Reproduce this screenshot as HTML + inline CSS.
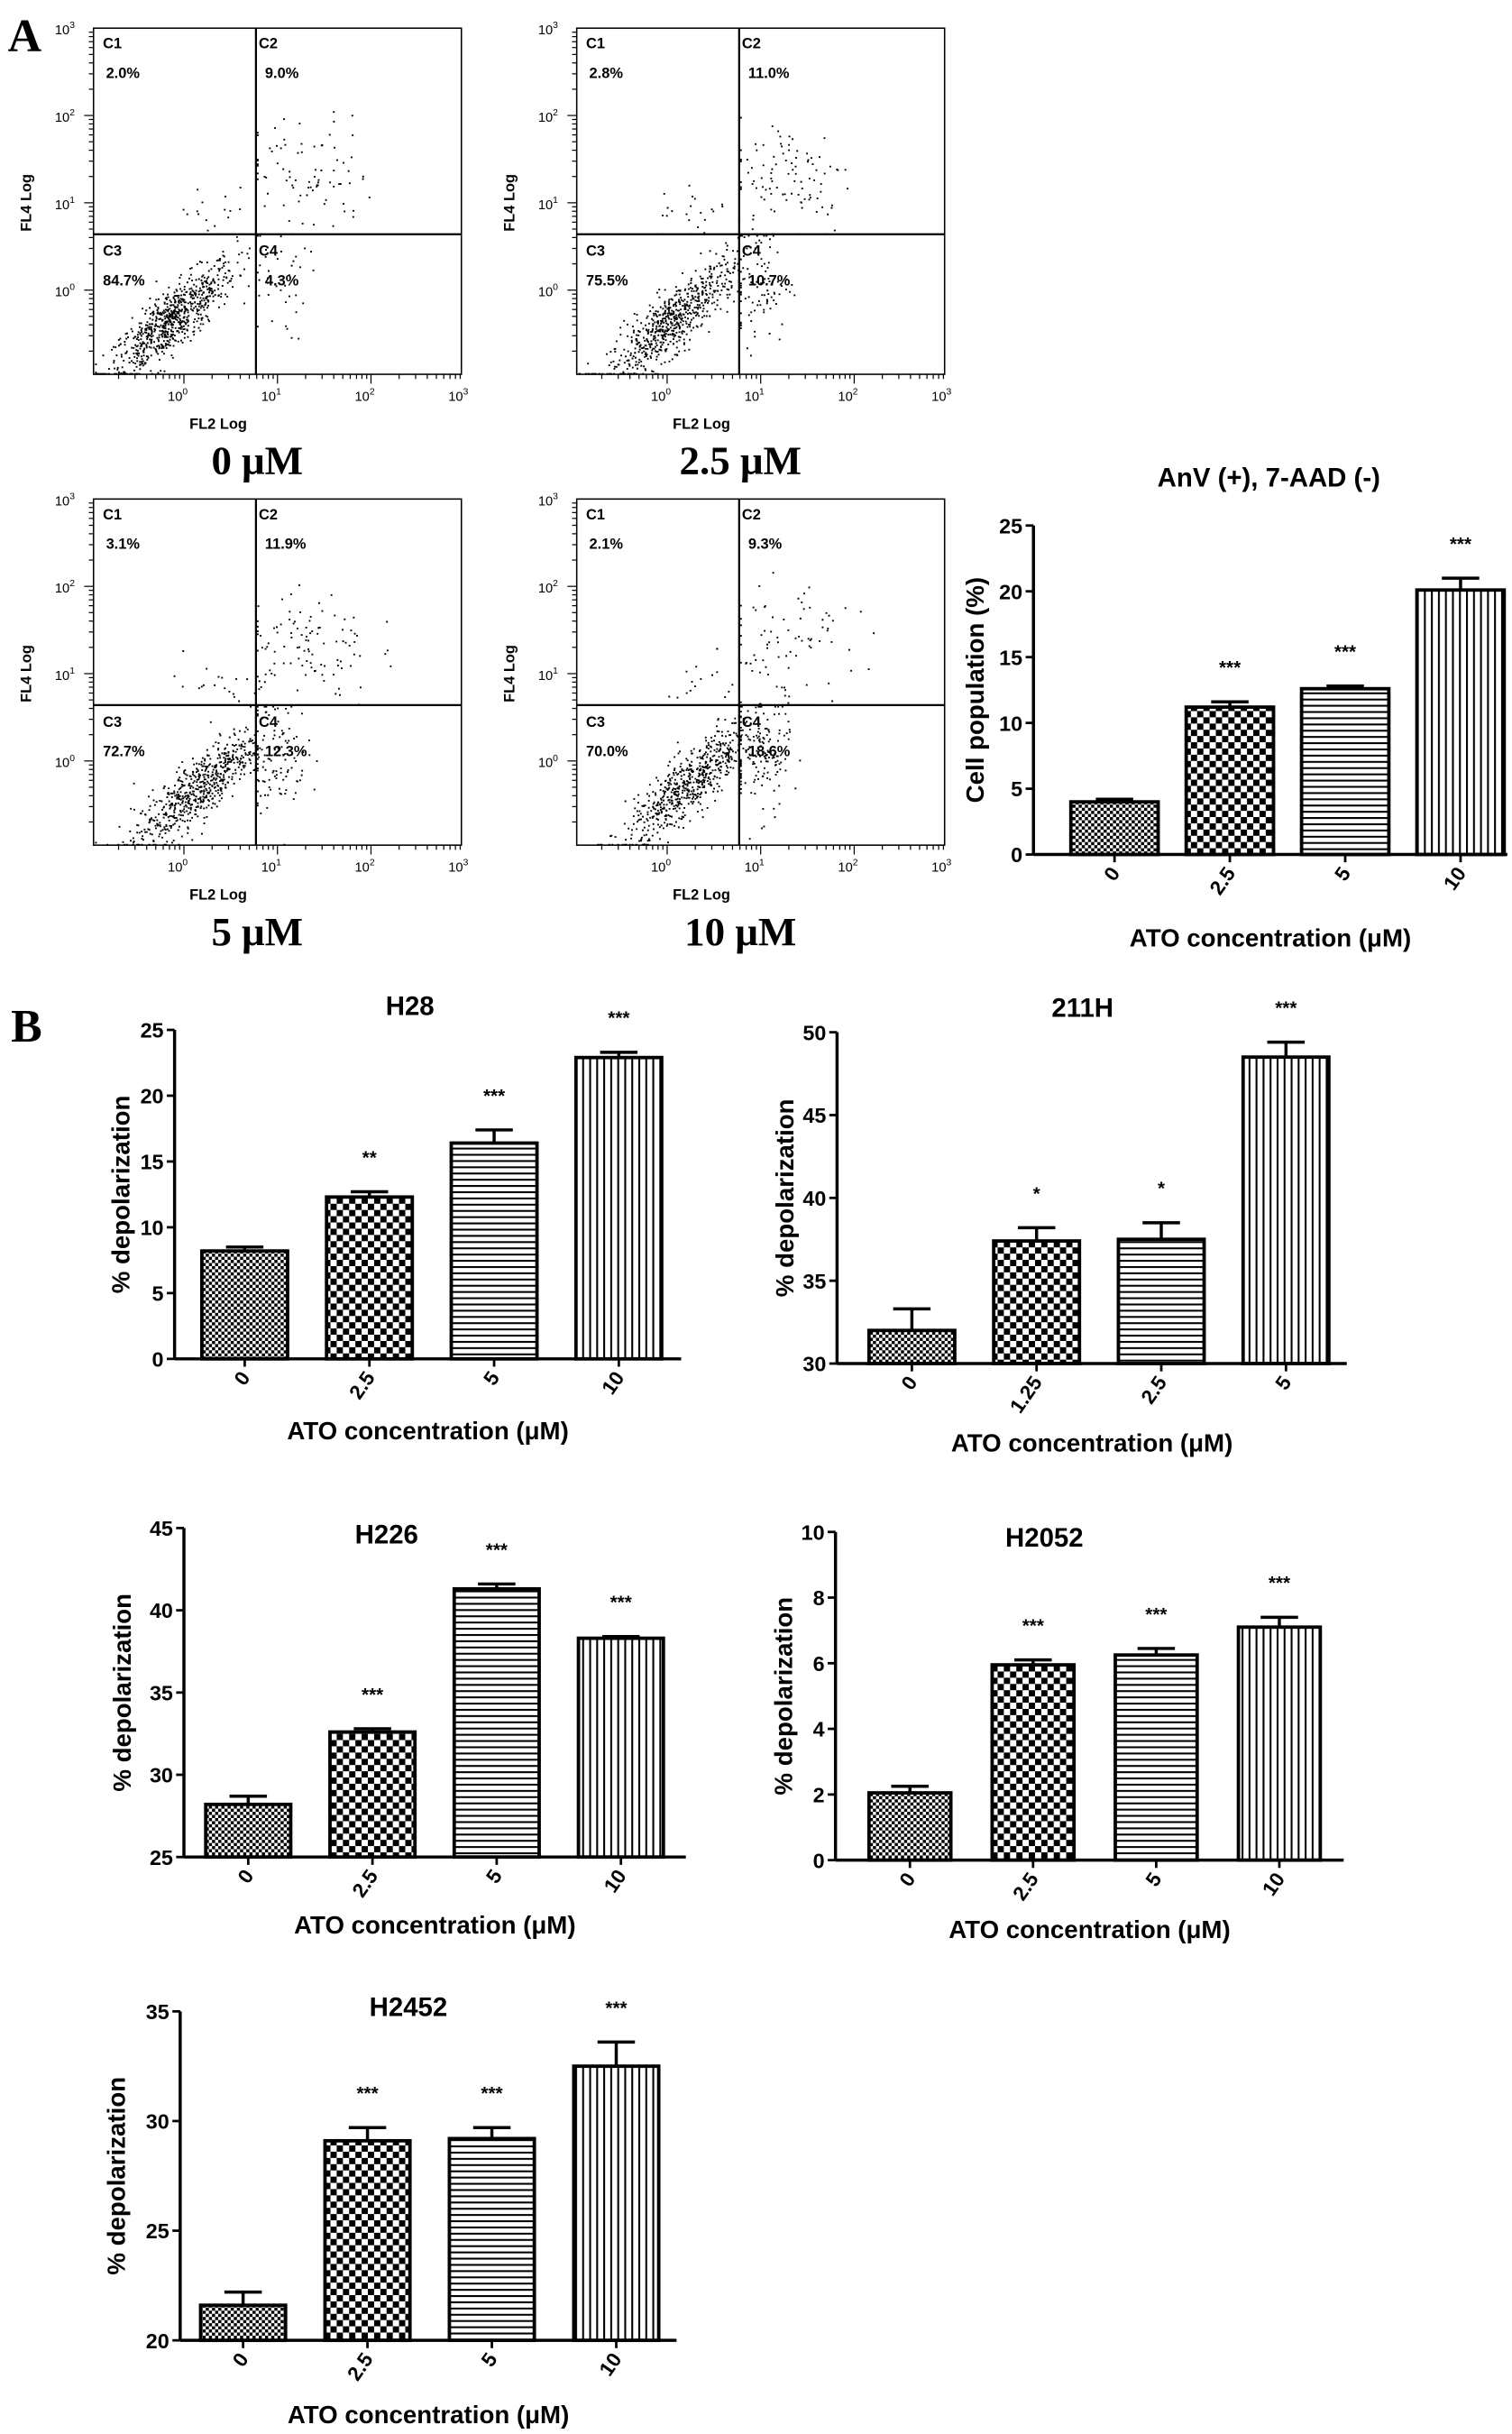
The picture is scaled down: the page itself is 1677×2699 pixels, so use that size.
<!DOCTYPE html>
<html><head><meta charset="utf-8"><style>
html,body{margin:0;padding:0;background:#fff;}
svg{display:block;}
text{font-family:"Liberation Sans",Arial,sans-serif;fill:#000;}
.serif{font-family:"Liberation Serif","Times New Roman",serif;}
</style></head><body>
<svg id="fig" xmlns="http://www.w3.org/2000/svg" width="1677" height="2699" viewBox="0 0 970 1561">
<defs>
<pattern id="pFine" width="4" height="4" patternUnits="userSpaceOnUse"><rect width="4" height="4" fill="#fff"/><rect width="2" height="2" fill="#000"/><rect x="2" y="2" width="2" height="2" fill="#000"/></pattern>
<pattern id="pCheck" width="8" height="8" patternUnits="userSpaceOnUse"><rect width="8" height="8" fill="#fff"/><rect width="4" height="4" fill="#000"/><rect x="4" y="4" width="4" height="4" fill="#000"/></pattern>
<pattern id="pHoriz" width="8" height="4" patternUnits="userSpaceOnUse"><rect width="8" height="4" fill="#fff"/><rect y="0" width="8" height="1.2" fill="#000"/></pattern>
<pattern id="pVert" width="4.5" height="8" patternUnits="userSpaceOnUse"><rect width="4.5" height="8" fill="#fff"/><rect x="0" width="1.2" height="8" fill="#000"/></pattern>
</defs>
<text x="5" y="33" class="serif" font-size="30" font-weight="bold">A</text>
<text x="7" y="668" class="serif" font-size="30" font-weight="bold">B</text>
</svg>
<script>
// ===== Flow cytometry data =====
const flowDoses = ["0 μM","2.5 μM","5 μM","10 μM"];
const flowC1 = [2.0, 2.8, 3.1, 2.1];
const flowC2 = [9.0, 11.0, 11.9, 9.3];
const flowC3 = [84.7, 75.5, 72.7, 70.0];
const flowC4 = [4.3, 10.7, 12.3, 18.6];
const flowCenterX = [-0.15, 0.05, 0.15, 0.25];
const flowCenterY = [-0.35, -0.35, -0.3, -0.25];

// ===== Bar chart data =====
const atoCats = ["0","2.5","5","10"];
const anvValues = [4.0, 11.2, 12.6, 20.1];
const anvErrors = [0.2, 0.4, 0.2, 0.9];
const anvStars = ["", "***", "***", "***"];
const anvTicks = [0,5,10,15,20,25];

const h28Values = [8.2, 12.3, 16.4, 22.9];
const h28Errors = [0.3, 0.4, 1.0, 0.4];
const h28Stars = ["", "**", "***", "***"];
const h28Ticks = [0,5,10,15,20,25];

const h211Cats = ["0","1.25","2.5","5"];
const h211Values = [32.0, 37.4, 37.5, 48.5];
const h211Errors = [1.3, 0.8, 1.0, 0.9];
const h211Stars = ["", "*", "*", "***"];
const h211Ticks = [30,35,40,45,50];

const h226Values = [28.2, 32.6, 41.3, 38.3];
const h226Errors = [0.5, 0.2, 0.3, 0.1];
const h226Stars = ["", "***", "***", "***"];
const h226Ticks = [25,30,35,40,45];

const h2052Values = [2.05, 5.95, 6.25, 7.1];
const h2052Errors = [0.2, 0.15, 0.2, 0.3];
const h2052Stars = ["", "***", "***", "***"];
const h2052Ticks = [0,2,4,6,8,10];

const h2452Values = [21.6, 29.1, 29.2, 32.5];
const h2452Errors = [0.6, 0.6, 0.5, 1.1];
const h2452Stars = ["", "***", "***", "***"];
const h2452Ticks = [20,25,30,35];

const NS = "http://www.w3.org/2000/svg";
const svg = document.getElementById('fig');
function mk(tag, attrs, parent, txt){
  const e = document.createElementNS(NS, tag);
  for (const k in attrs) e.setAttribute(k, attrs[k]);
  if (txt !== undefined) e.textContent = txt;
  (parent||svg).appendChild(e);
  return e;
}

let seed = 12345;
function rnd(){ seed = (seed*1103515245 + 12345) % 2147483648; return seed/2147483648; }
function gauss(){ let u=rnd()||1e-6, v=rnd(); return Math.sqrt(-2*Math.log(u))*Math.cos(2*Math.PI*v); }

function flowPlot(i, ox, oy){
  const g = mk('g', {transform:`translate(${ox},${oy})`});
  
  
  const L=60, R=296, T=18, B=240;
  const xs = v => 118 + v*60;
  const ys = v => 186 - v*56;
  const qx = xs(0.77), qy = ys(0.64);
  const total = 900;
  const quads = [
    {n: flowC3[i], cx: flowCenterX[i], cy: flowCenterY[i], sx:0.35, sy:0.3, x0:-0.95, x1:0.76, y0:-0.95, y1:0.63, corr:true},
    {n: flowC4[i], cx: 0.95, cy: 0.1, sx:0.18, sy:0.35, x0:0.78, x1:2.9, y0:-0.95, y1:0.63},
    {n: flowC2[i], cx: 1.3, cy: 1.3, sx:0.35, sy:0.35, x0:0.78, x1:2.9, y0:0.65, y1:2.9},
    {n: flowC1[i], cx: 0.35, cy: 0.85, sx:0.25, sy:0.2, x0:-0.95, x1:0.76, y0:0.65, y1:2.9}
  ];
  let d = '';
  quads.forEach(q=>{
    const n = Math.round(q.n/100*total);
    for(let k=0;k<n;k++){
      let a=gauss(), b=gauss();
      let x = q.cx + a*q.sx, y;
      if(q.corr){ y = q.cy + (a*q.sx)*0.85 + b*0.18; }
      else y = q.cy + b*q.sy;
      x=Math.min(q.x1,Math.max(q.x0,x)); y=Math.min(q.y1,Math.max(q.y0,y));
      d += `M${xs(x).toFixed(1)} ${ys(y).toFixed(1)}h1.1v1.1h-1.1z`;
    }
  });
  const dots = mk('path', {d:d, fill:'#000'}, g);
  
  
  mk('rect', {x:L,y:T,width:R-L,height:B-T,fill:'none',stroke:'#000','stroke-width':0.9}, g);
  mk('line', {x1:qx,y1:T,x2:qx,y2:B,stroke:'#000','stroke-width':1.3}, g);
  mk('line', {x1:L,y1:qy,x2:R,y2:qy,stroke:'#000','stroke-width':1.3}, g);
  for(let dec=-1; dec<3; dec++){
    for(let m=1;m<10;m++){
      const v = dec + Math.log10(m);
      const X = xs(v), Y = ys(v);
      if (X>L && X<=R) mk('line',{x1:X,y1:B,x2:X,y2:B+(m===1?6:3),stroke:'#000','stroke-width':0.7},g);
      if (Y<B && Y>=T) mk('line',{x1:L,y1:Y,x2:L-(m===1?6:3),y2:Y,stroke:'#000','stroke-width':0.7},g);
    }
  }
  for(let p=0;p<=3;p++){
    const tx = mk('text',{x:xs(p)-4,y:B+17,'font-size':8.5,'text-anchor':'middle'},g);
    tx.appendChild(document.createTextNode('10'));
    mk('tspan',{dy:-4,'font-size':6},tx,String(p));
    const ty = mk('text',{x:L-12,y:ys(p)+4,'font-size':8.5,'text-anchor':'end'},g);
    ty.appendChild(document.createTextNode('10'));
    mk('tspan',{dy:-4,'font-size':6},ty,String(p));
  }
  const xl = mk('text',{x:140,y:275,'font-size':9.5,'font-weight':'bold','text-anchor':'middle'},g,'FL2 Log');
   
  const yl = mk('text',{x:0,y:0,'font-size':9.5,'font-weight':'bold','text-anchor':'middle',transform:`translate(20,130) rotate(-90)`},g,'FL4 Log');
   
  const labs = [['C1',66,31],['C2',166,31],['C3',66,164],['C4',166,164]];
  labs.forEach(l=>mk('text',{x:l[1],y:l[2],'font-size':9.5,'font-weight':'bold'},g,l[0]));
  mk('text',{x:68,y:50,'font-size':9.5,'font-weight':'bold'},g,flowC1[i].toFixed(1)+'%');
  mk('text',{x:170,y:50,'font-size':9.5,'font-weight':'bold'},g,flowC2[i].toFixed(1)+'%');
  mk('text',{x:66,y:183,'font-size':9.5,'font-weight':'bold'},g,flowC3[i].toFixed(1)+'%');
  mk('text',{x:170,y:183,'font-size':9.5,'font-weight':'bold'},g,flowC4[i].toFixed(1)+'%');
  const dl = mk('text',{x:165,y:304,'font-size':26,'font-weight':'bold','text-anchor':'middle',class:'serif'},g,flowDoses[i]);
   
}
flowPlot(0, 0, 0);
flowPlot(1, 310, 0);
flowPlot(2, 0, 302);
flowPlot(3, 310, 302);

const fills = ['url(#pFine)','url(#pCheck)','url(#pHoriz)','url(#pVert)'];
function barChart(name, cfg, cats, values, errors, stars, ticks){
  const g = mk('g', {});
  
  
  const min = ticks[0], max = ticks[ticks.length-1];
  const y = v => cfg.yBot - (v-min)/(max-min)*(cfg.yBot-cfg.yTop);
  const x = i => cfg.bar0 + i*cfg.spacing;
  values.forEach((v,i)=>{
    const r = mk('rect',{x:x(i),y:y(v),width:cfg.bw,height:cfg.yBot-y(v),fill:fills[i],stroke:'#000','stroke-width':2.2},g);
    
    
    const cx = x(i)+cfg.bw/2, top = y(v+errors[i]);
    mk('line',{x1:cx,y1:y(v),x2:cx,y2:top,stroke:'#000','stroke-width':2},g);
    mk('line',{x1:cx-12,y1:top,x2:cx+12,y2:top,stroke:'#000','stroke-width':2},g);
    if (stars[i]) {
      const s = mk('text',{x:cx,y:top-18,'font-size':12,'font-weight':'bold','text-anchor':'middle'},g,stars[i]);
      
      
    }
    const tx = cx, ty = cfg.yBot+12;
    mk('line',{x1:cx,y1:cfg.yBot,x2:cx,y2:cfg.yBot+5,stroke:'#000','stroke-width':1.6},g);
    const lbl = mk('text',{x:0,y:0,'font-size':13,'font-weight':'bold','text-anchor':'end',transform:`translate(${tx+4},${ty}) rotate(-55)`},g,cats[i]);
    
    
  });
  mk('line',{x1:cfg.ax,y1:cfg.yTop,x2:cfg.ax,y2:cfg.yBot,stroke:'#000','stroke-width':2},g);
  mk('line',{x1:cfg.ax,y1:cfg.yBot,x2:cfg.xEnd,y2:cfg.yBot,stroke:'#000','stroke-width':2},g);
  ticks.forEach(t=>{
    mk('line',{x1:cfg.ax-5,y1:y(t),x2:cfg.ax,y2:y(t),stroke:'#000','stroke-width':1.6},g);
    const tl = mk('text',{x:cfg.ax-7,y:y(t)+5,'font-size':13.5,'font-weight':'bold','text-anchor':'end'},g,String(t));
    
    
  });
  const tt = mk('text',{x:cfg.titleX,y:cfg.titleY,'font-size':17,'font-weight':'bold','text-anchor':'middle'},g,cfg.title);
  
  
  const xt = mk('text',{x:(cfg.ax+cfg.xEnd)/2,y:cfg.xTitleY,'font-size':16,'font-weight':'bold','text-anchor':'middle'},g,'ATO concentration (μM)');
  
  
  const yt = mk('text',{x:0,y:0,'font-size':16,'font-weight':'bold','text-anchor':'middle',transform:`translate(${cfg.yTitleX},${(cfg.yTop+cfg.yBot)/2}) rotate(-90)`},g,cfg.yTitle);
  
  
}

barChart('anv-bar-chart',{ax:663,yTop:337,yBot:548,xEnd:967,bar0:687,spacing:74,bw:56,title:'AnV (+), 7-AAD  (-)',titleX:814,titleY:312,xTitleY:607,yTitleX:631,yTitle:'Cell population (%)'},atoCats,anvValues,anvErrors,anvStars,anvTicks);
barChart('h28-bar-chart',{ax:112,yTop:660.5,yBot:871.5,xEnd:437,bar0:129.5,spacing:80,bw:55,title:'H28',titleX:263,titleY:651,xTitleY:923,yTitleX:83,yTitle:'% depolarization'},atoCats,h28Values,h28Errors,h28Stars,h28Ticks);
barChart('h211-bar-chart',{ax:537,yTop:662,yBot:874.5,xEnd:864,bar0:557.5,spacing:80,bw:55,title:'211H',titleX:694.5,titleY:652,xTitleY:931,yTitleX:509,yTitle:'% depolarization'},h211Cats,h211Values,h211Errors,h211Stars,h211Ticks);
barChart('h226-bar-chart',{ax:118,yTop:980,yBot:1191,xEnd:440,bar0:132,spacing:79.7,bw:54.5,title:'H226',titleX:248,titleY:990,xTitleY:1240,yTitleX:84,yTitle:'% depolarization'},atoCats,h226Values,h226Errors,h226Stars,h226Ticks);
barChart('h2052-bar-chart',{ax:536,yTop:982.5,yBot:1193,xEnd:862,bar0:557.5,spacing:79,bw:52.5,title:'H2052',titleX:670,titleY:992,xTitleY:1243,yTitleX:508,yTitle:'% depolarization'},atoCats,h2052Values,h2052Errors,h2052Stars,h2052Ticks);
barChart('h2452-bar-chart',{ax:115.6,yTop:1290,yBot:1501,xEnd:434,bar0:128.7,spacing:79.8,bw:54.5,title:'H2452',titleX:262,titleY:1293,xTitleY:1554,yTitleX:80,yTitle:'% depolarization'},atoCats,h2452Values,h2452Errors,h2452Stars,h2452Ticks);
</script>
</body></html>
